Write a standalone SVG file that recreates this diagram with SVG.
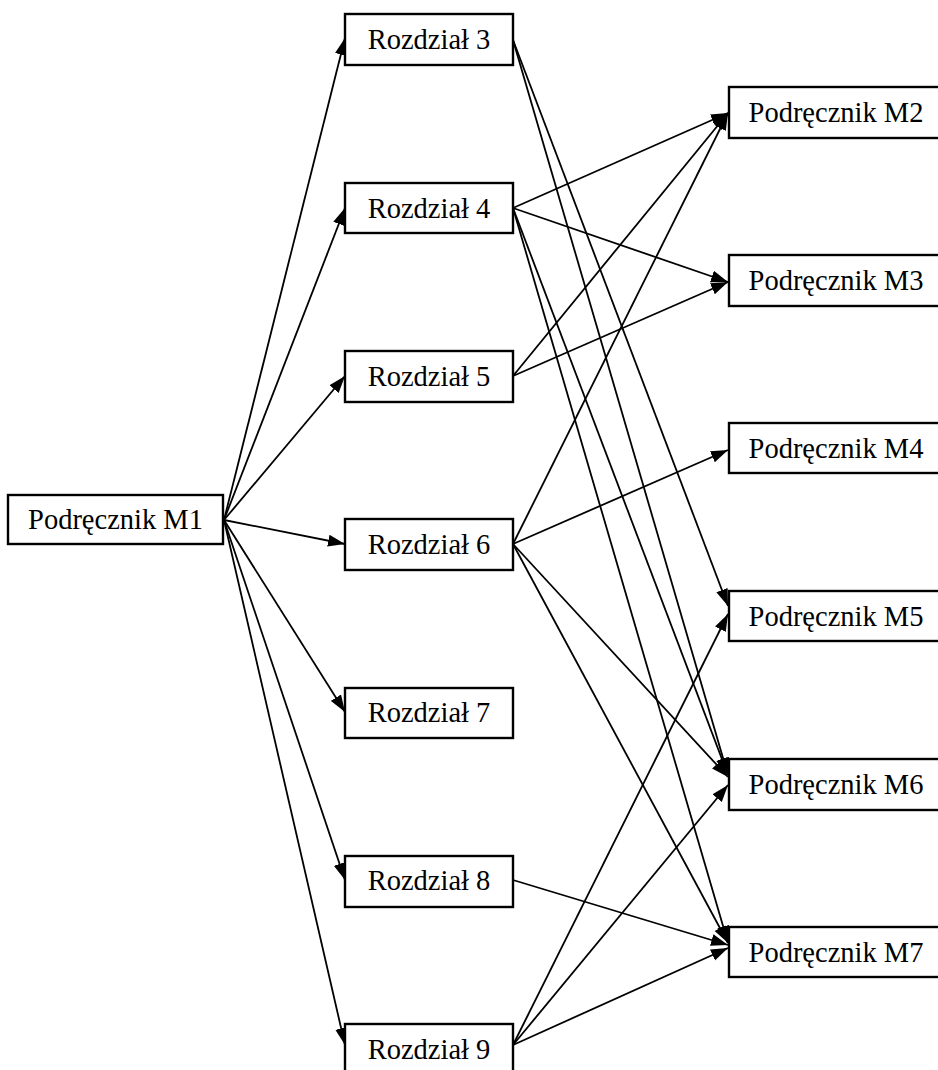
<svg xmlns="http://www.w3.org/2000/svg" width="938" height="1070" viewBox="0 0 938 1070">
  <style>
    .box rect { fill: #fff; stroke: #000; stroke-width: 2.4; }
    .box text { font-family: "Liberation Serif", "Times New Roman", serif; font-size: 28.5px; fill: #000; text-anchor: middle; }
    #edges line { stroke: #000; stroke-width: 1.8; marker-end: url(#arrow); }
  </style>
  <defs>
    <marker id="arrow" markerUnits="userSpaceOnUse" markerWidth="17" markerHeight="13" refX="17" refY="6.5" orient="auto">
      <path d="M0,0.5 L17,6.5 L0,12.5 z" fill="#000"/>
    </marker>
  </defs>
  <rect width="938" height="1070" fill="#fff"/>

  <!-- connectors -->
  <g id="edges">
    <!-- M1 to chapters -->
    <line x1="224" y1="520" x2="345" y2="38"/>
    <line x1="224" y1="520" x2="345" y2="208"/>
    <line x1="224" y1="520" x2="345" y2="376"/>
    <line x1="224" y1="520" x2="345" y2="544"/>
    <line x1="224" y1="520" x2="345" y2="712"/>
    <line x1="224" y1="520" x2="345" y2="880"/>
    <line x1="224" y1="520" x2="345" y2="1045"/>
    <!-- Rozdział 3 -->
    <line x1="513" y1="40" x2="728" y2="606"/>
    <line x1="513" y1="40" x2="728" y2="775"/>
    <!-- Rozdział 4 -->
    <line x1="513" y1="208" x2="728" y2="113"/>
    <line x1="513" y1="208" x2="728" y2="282"/>
    <line x1="513" y1="208" x2="728" y2="775"/>
    <line x1="513" y1="208" x2="728" y2="943"/>
    <!-- Rozdział 5 -->
    <line x1="513" y1="376" x2="728" y2="113"/>
    <line x1="513" y1="376" x2="728" y2="282"/>
    <!-- Rozdział 6 -->
    <line x1="513" y1="544" x2="728" y2="113"/>
    <line x1="513" y1="544" x2="728" y2="450"/>
    <line x1="513" y1="544" x2="728" y2="777"/>
    <line x1="513" y1="544" x2="728" y2="943"/>
    <!-- Rozdział 8 -->
    <line x1="513" y1="880" x2="728" y2="945"/>
    <!-- Rozdział 9 -->
    <line x1="513" y1="1045" x2="728" y2="614"/>
    <line x1="513" y1="1045" x2="728" y2="785"/>
    <line x1="513" y1="1045" x2="728" y2="948"/>
  </g>

  <!-- source manual -->
  <g id="m1" class="box">
    <rect x="8" y="495" width="215" height="49"/>
    <text x="115.5" y="529">Podręcznik M1</text>
  </g>

  <!-- chapters -->
  <g id="r3" class="box">
    <rect x="345" y="14" width="168" height="51"/>
    <text x="429" y="49">Rozdział 3</text>
  </g>
  <g id="r4" class="box">
    <rect x="345" y="183" width="168" height="50"/>
    <text x="429" y="218">Rozdział 4</text>
  </g>
  <g id="r5" class="box">
    <rect x="345" y="351" width="168" height="51"/>
    <text x="429" y="386">Rozdział 5</text>
  </g>
  <g id="r6" class="box">
    <rect x="345" y="519" width="168" height="51"/>
    <text x="429" y="554">Rozdział 6</text>
  </g>
  <g id="r7" class="box">
    <rect x="345" y="688" width="168" height="50"/>
    <text x="429" y="722">Rozdział 7</text>
  </g>
  <g id="r8" class="box">
    <rect x="345" y="856" width="168" height="51"/>
    <text x="429" y="890">Rozdział 8</text>
  </g>
  <g id="r9" class="box">
    <rect x="345" y="1024" width="168" height="51"/>
    <text x="429" y="1059">Rozdział 9</text>
  </g>

  <!-- target manuals -->
  <g id="m2" class="box">
    <rect x="729" y="87" width="216" height="51"/>
    <text x="836" y="122">Podręcznik M2</text>
  </g>
  <g id="m3" class="box">
    <rect x="729" y="255" width="216" height="51"/>
    <text x="836" y="290">Podręcznik M3</text>
  </g>
  <g id="m4" class="box">
    <rect x="729" y="423" width="216" height="50"/>
    <text x="836" y="458">Podręcznik M4</text>
  </g>
  <g id="m5" class="box">
    <rect x="729" y="591" width="216" height="50"/>
    <text x="836" y="626">Podręcznik M5</text>
  </g>
  <g id="m6" class="box">
    <rect x="729" y="759" width="216" height="51"/>
    <text x="836" y="794">Podręcznik M6</text>
  </g>
  <g id="m7" class="box">
    <rect x="729" y="927" width="216" height="50"/>
    <text x="836" y="962">Podręcznik M7</text>
  </g>
</svg>
